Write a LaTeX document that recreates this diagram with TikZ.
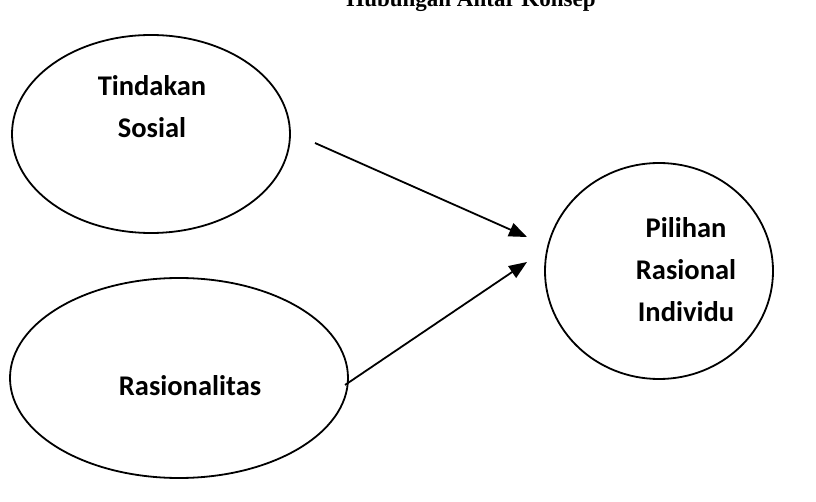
\documentclass[tikz,border=0pt]{standalone}
\usepackage{fontspec}
\setmainfont{Carlito}
\newfontfamily\titlefont{Liberation Serif}
\usetikzlibrary{arrows.meta, positioning, shapes.geometric}
\tikzset{x=1pt, y=-1pt,
    konsep/.style={ellipse, draw, line width=1.8pt, inner sep=0pt},
    label/.style={font=\fontsize{28.5}{42}\selectfont\bfseries, align=center},
    panah/.style={-{Triangle[length=18pt,width=14pt]}, line width=1.8pt},
    judul/.style={font=\fontsize{23}{28}\selectfont\titlefont\bfseries, anchor=base}}

\begin{document}
\begin{tikzpicture}
\useasboundingbox (0,0) rectangle (816,502);
\node[judul] (title) at (471,7) {Hubungan Antar Konsep};
% ellipses
\node[konsep, minimum width=278pt, minimum height=198pt] (sosial)  at (151,134) {};
\node[konsep, minimum width=338pt, minimum height=200pt] (rasio)   at (179,378) {};
\node[konsep, minimum width=228pt, minimum height=216pt] (pilihan) at (659,271) {};
\node[label] (tSosial)  at (152,107) {Tindakan\\Sosial};
\node[label] (tRasio)   at (190,386) {Rasionalitas};
\node[label] (tPilihan) at (686,270) {Pilihan\\Rasional\\Individu};
% connectors
\coordinate (a1) at (315,143);
\coordinate (b1) at (527,237);
\coordinate (a2) at (345,385);
\coordinate (b2) at (527,262);
\draw[panah] (a1) -- (b1);
\draw[panah] (a2) -- (b2);
\end{tikzpicture}
\end{document}
